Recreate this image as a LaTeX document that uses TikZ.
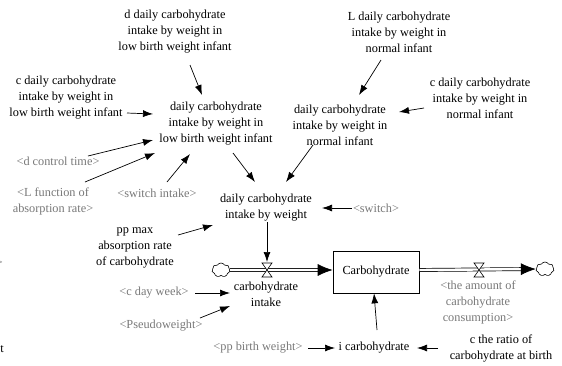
\documentclass[tikz,border=0pt]{standalone}
\usepackage{fontspec}
\setmainfont{Liberation Serif}
\newfontfamily\vfont{Liberation Serif}
\usetikzlibrary{arrows.meta,shapes.symbols}
\definecolor{vgrey}{RGB}{120,120,120}
\begin{document}
\begin{tikzpicture}[x=1pt,y=-1pt,
  every node/.style={font=\vfont\fontsize{12.3}{16}\selectfont, align=center, inner sep=1pt},
  shadow/.style={text=vgrey},
  link/.style={-{Latex[length=10pt,width=7pt]}, line width=0.7pt},
  pipe/.style={double, double distance=2.4pt, line width=0.7pt},
  stockbox/.style={draw, line width=0.7pt, minimum width=86pt, minimum height=42pt},
  sink/.style={cloud, cloud puffs=7, cloud puff arc=120, aspect=1.3, draw, line width=0.6pt, minimum width=18pt, minimum height=14pt, inner sep=0pt},
  valve/.style={draw, fill=white, line width=0.6pt}
]
\useasboundingbox (0,0) rectangle (562,365);

% variables
\node (dlow) at (175,32) {d daily carbohydrate\\intake by weight in\\low birth weight infant};
\node (clow) at (66,98) {c daily carbohydrate\\intake by weight in\\low birth weight infant};
\node (low) at (216,124) {daily carbohydrate\\intake by weight in\\low birth weight infant};
\node[shadow] (dct) at (58,161) {<d control time>};
\node[shadow] (lfun) at (53,201) {<L function of\\absorption rate>};
\node[shadow] (swi) at (157,193) {<switch intake>};
\node (lnorm) at (399,32) {L daily carbohydrate\\intake by weight in\\normal infant};
\node (cnorm) at (480,98) {c daily carbohydrate\\intake by weight in\\normal infant};
\node (norm) at (340,125) {daily carbohydrate\\intake by weight in\\normal infant};
\node (daily) at (266,208) {daily carbohydrate\\intake by weight};
\node[shadow] (switch) at (376,208) {<switch>};
\node (pp) at (135,248) {pp max\\absorption rate\\of carbohydrate};
\node (cin) at (266,294) {carbohydrate\\intake};
\node[shadow] (cdw) at (154,293) {<c day week>};
\node[shadow] (pseudo) at (161,326) {<Pseudoweight>};
\node[shadow] (ppbw) at (258,348) {<pp birth weight>};
\node (icarb) at (374,348) {i carbohydrate};
\node (ratio) at (501,348) {c the ratio of\\carbohydrate at birth};
\node[shadow] (amount) at (478,302) {<the amount of\\carbohydrate\\consumption>};
\node[shadow, anchor=east, inner sep=0pt] (fragA) at (3,263) {>};
\node[anchor=east, inner sep=0pt] (fragB) at (4,349) {t};

% stock, clouds, valves
\node[stockbox] (stk) at (376,272) {Carbohydrate};
\node[sink] (cl) at (221,270) {};
\node[sink] (cr) at (545,269) {};
\coordinate (vin) at (267,270);
\coordinate (vout) at (479,270);

% flows
\draw[pipe, -{Latex[length=15pt,width=12pt]}] (cl.east) -- (stk.west |- vin);
\draw[pipe, -{Latex[length=15pt,width=12pt]}] (stk.east |- vout) -- (cr.west);
\draw[valve] ([shift={(-5,-7)}]vin) -- ([shift={(5,-7)}]vin) -- ([shift={(-5,7)}]vin) -- ([shift={(5,7)}]vin) -- cycle;
\draw[valve] ([shift={(-5,-7)}]vout) -- ([shift={(5,-7)}]vout) -- ([shift={(-5,7)}]vout) -- ([shift={(5,7)}]vout) -- cycle;

% links
\draw[link] ([shift={(15,33)}]dlow.center) -- ([shift={(-14,-29)}]low.center);
\draw[link] ([shift={(61,15)}]clow.center) -- ([shift={(-63,-10)}]low.center);
\draw[link] ([shift={(30,-5)}]dct.center) -- ([shift={(-63,16)}]low.center);
\draw[link] ([shift={(32,-19)}]lfun.center) -- ([shift={(-61,29)}]low.center);
\draw[link] ([shift={(10,-11)}]swi.center) -- ([shift={(-26,30)}]low.center);
\draw[link] ([shift={(17,29)}]low.center) -- ([shift={(-11,-26)}]daily.center);
\draw[link] ([shift={(-18,28)}]lnorm.center) -- ([shift={(19,-30)}]norm.center);
\draw[link] ([shift={(-56,10)}]cnorm.center) -- ([shift={(59,-13)}]norm.center);
\draw[link] ([shift={(-27,20)}]norm.center) -- ([shift={(20,-26)}]daily.center);
\draw[link] ([shift={(-24,0)}]switch.center) -- ([shift={(56,0)}]daily.center);
\draw[link] ([shift={(43,-13)}]pp.center) -- ([shift={(-53,17)}]daily.center);
\draw[link] ([shift={(1,14)}]daily.center) -- ([shift={(0,-8)}]vin);
\draw[link] ([shift={(41,0)}]cdw.center) -- ([shift={(-36,-1)}]cin.center);
\draw[link] ([shift={(39,-8)}]pseudo.center) -- ([shift={(-36,12)}]cin.center);
\draw[link] ([shift={(50,0)}]ppbw.center) -- ([shift={(-39,0)}]icarb.center);
\draw[link] ([shift={(3,-18)}]icarb.center) -- (stk.south -| icarb.center);
\draw[link] ([shift={(-63,0)}]ratio.center) -- ([shift={(43,0)}]icarb.center);
\end{tikzpicture}
\end{document}
